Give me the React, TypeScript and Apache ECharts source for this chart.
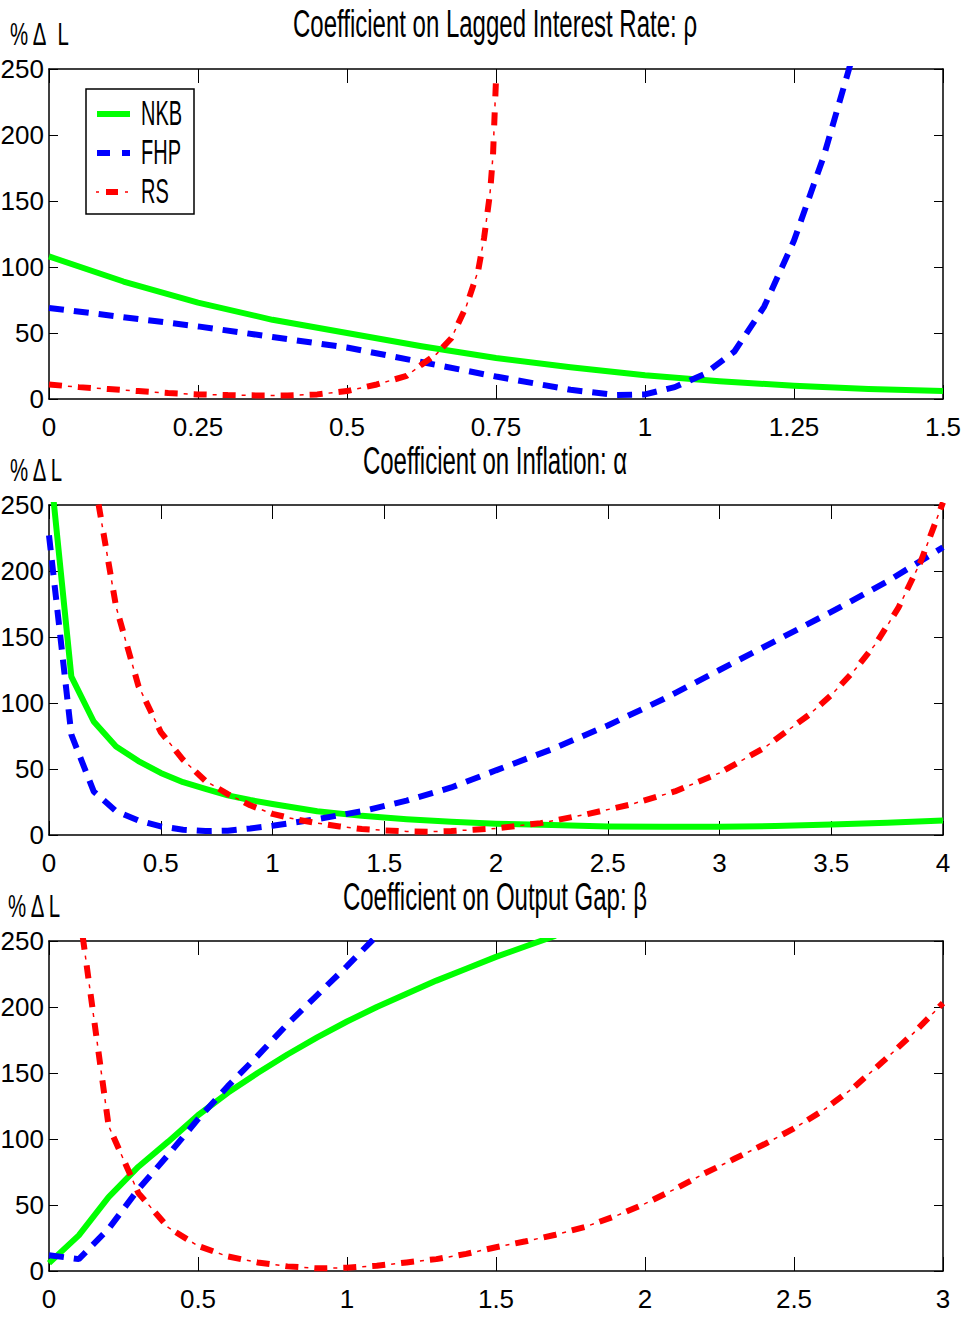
import React, { useEffect, useRef } from "react";
import * as echarts from "echarts";

// ---------- data ----------
// Panel 1: Coefficient on Lagged Interest Rate (rho)
const rhoNKB_x = [0, 0.125, 0.25, 0.375, 0.5, 0.625, 0.75, 0.875, 1, 1.125, 1.25, 1.375, 1.5];
const rhoNKB_y = [108, 89, 73, 60, 50, 40, 31, 24, 18, 13.5, 10, 7.5, 6];
const rhoFHP_x = [0, 0.125, 0.25, 0.375, 0.5, 0.625, 0.75, 0.875, 0.95, 1.0, 1.05, 1.1, 1.15, 1.2, 1.25, 1.3, 1.35];
const rhoFHP_y = [69, 62, 55, 47, 39, 28, 17, 7, 3, 3.5, 9, 19, 36, 70, 120, 184, 262];
const rhoRS_x = [0, 0.05, 0.1, 0.15, 0.2, 0.25, 0.3, 0.35, 0.4, 0.45, 0.5, 0.55, 0.6, 0.625, 0.65, 0.675, 0.7, 0.72, 0.73, 0.74, 0.745, 0.75];
const rhoRS_y = [11, 9, 7.5, 6, 4.5, 3.5, 3, 2.7, 2.7, 3.5, 6, 11, 17.5, 26, 34, 46, 70, 97, 122, 156, 185, 242];

// Panel 2: Coefficient on Inflation (alpha)
const alphaX = [0, 0.1, 0.2, 0.3, 0.4, 0.5, 0.6, 0.7, 0.8, 0.9, 1.0, 1.2, 1.4, 1.6, 1.8, 2.0, 2.25, 2.5, 2.75, 3.0, 3.25, 3.5, 3.75, 4.0];
const alphaNKB_y = [288, 120, 86, 67, 56, 47, 40, 35, 30, 26.5, 23.5, 18, 14.5, 12, 10, 8.5, 7.5, 6.5, 6.2, 6.2, 6.8, 8, 9.2, 11];
const alphaFHP_y = [227, 76, 33, 18, 11, 6.5, 4, 3, 3.3, 5, 7, 12, 18, 26, 36, 49, 65, 83, 103, 125, 147, 169, 192, 218];
const alphaRS_x = [0.2, 0.3, 0.4, 0.5, 0.6, 0.7, 0.8, 0.9, 1.0, 1.1, 1.2, 1.3, 1.4, 1.5, 1.6, 1.7, 1.8, 1.9, 2.0, 2.2, 2.4, 2.6, 2.8, 3.0, 3.2, 3.3, 3.4, 3.5, 3.6, 3.7, 3.8, 3.9, 4.0];
const alphaRS_y = [272, 173, 113, 78, 57, 41, 31, 22.5, 16, 12, 9, 6.5, 4.5, 3.5, 2.7, 2.5, 3, 4, 5, 9, 15.5, 23, 33, 47, 66, 78.5, 91, 106, 124, 145, 172, 207, 252];

// Panel 3: Coefficient on Output Gap (beta)
const betaNKB_x = [0, 0.1, 0.2, 0.3, 0.4, 0.5, 0.6, 0.7, 0.8, 0.9, 1.0, 1.1, 1.2, 1.3, 1.4, 1.5, 1.6, 1.7];
const betaNKB_y = [6, 27, 56, 79, 98, 118, 135, 150, 164, 177, 189, 200, 210, 220, 229, 238, 246, 254];
const betaFHP_x = [0, 0.1, 0.2, 0.3, 0.4, 0.5, 0.6, 0.7, 0.8, 0.9, 1.0, 1.1];
const betaFHP_y = [12, 9, 32, 62, 88, 115, 140, 163, 187, 209, 231, 254];
const betaRS_x = [0.1, 0.2, 0.3, 0.4, 0.5, 0.6, 0.7, 0.8, 0.9, 1.0, 1.1, 1.2, 1.3, 1.4, 1.5, 1.6, 1.7, 1.8, 1.9, 2.0, 2.1, 2.2, 2.3, 2.4, 2.5, 2.6, 2.7, 2.8, 2.9, 3.0];
const betaRS_y = [275, 110, 59, 33, 19, 11, 6.5, 3.5, 2, 2.5, 4, 6.5, 9, 13, 18, 22.5, 27.5, 33.5, 41.5, 51, 62, 74, 85, 96, 108, 122, 139, 159, 180, 203];

// Axes and labels
const titles = ["Coefficient on Lagged Interest Rate: ρ", "Coefficient on Inflation: α", "Coefficient on Output Gap: β"];
const yLabels = ["% Δ\u00a0\u00a0L", "% Δ L", "% Δ L"];
const xMax = [1.5, 4, 3];
const xInterval = [0.25, 0.5, 0.5];
const xTickLabels = [
  ["0", "0.25", "0.5", "0.75", "1", "1.25", "1.5"],
  ["0", "0.5", "1", "1.5", "2", "2.5", "3", "3.5", "4"],
  ["0", "0.5", "1", "1.5", "2", "2.5", "3"],
];
const yTickLabels = ["0", "50", "100", "150", "200", "250"];
const seriesNames = ["NKB", "FHP", "RS"];

// ---------- styling ----------
const FONT = "'Liberation Sans', Arial, sans-serif";
const GREEN = "#00ff00";
const BLUE = "#0000ff";
const RED = "#ff0000";
const LEFT = 49;
const WIDTH = 894;
const HEIGHT = 330;
const TOPS = [69, 505, 941];

const zip = (xs: number[], ys: number[]) => xs.map((x, i) => [x, ys[i]]);

function buildOption() {
  const grids = TOPS.map((t) => ({
    left: LEFT,
    top: t,
    width: WIDTH,
    height: HEIGHT,
    show: false,
    containLabel: false,
    outerBoundsMode: "none",
  }));
  const xAxes: any[] = [];
  const yAxes: any[] = [];
  TOPS.forEach((_, i) => {
    const common = {
      type: "value",
      gridIndex: i,
      min: 0,
      max: xMax[i],
      interval: xInterval[i],
      splitLine: { show: false },
      axisLine: { show: true, onZero: false, lineStyle: { color: "#000", width: 1.5 } },
      axisTick: { show: true, inside: true, length: 14, lineStyle: { color: "#000", width: 1 } },
    };
    xAxes.push({
      ...common,
      position: "bottom",
      axisLabel: {
        show: true,
        color: "#000",
        fontFamily: FONT,
        fontSize: 26,
        margin: 15,
        showMinLabel: true,
        showMaxLabel: true,
        formatter: (_v: number, idx: number) => xTickLabels[i][idx],
      },
    });
    xAxes.push({ ...common, position: "top", axisLabel: { show: false } });
    const ycommon = {
      type: "value",
      gridIndex: i,
      min: 0,
      max: 250,
      interval: 50,
      splitLine: { show: false },
      axisLine: { show: true, onZero: false, lineStyle: { color: "#000", width: 1.5 } },
      axisTick: { show: true, inside: true, length: 9, lineStyle: { color: "#000", width: 1 } },
    };
    yAxes.push({
      ...ycommon,
      position: "left",
      axisLabel: {
        show: true,
        color: "#000",
        fontFamily: FONT,
        fontSize: 26,
        margin: 5,
        showMinLabel: true,
        showMaxLabel: true,
        formatter: (_v: number, idx: number) => yTickLabels[idx],
      },
    });
    yAxes.push({ ...ycommon, position: "right", axisLabel: { show: false } });
  });

  const panelData = [
    [zip(rhoNKB_x, rhoNKB_y), zip(rhoFHP_x, rhoFHP_y), zip(rhoRS_x, rhoRS_y)],
    [zip(alphaX, alphaNKB_y), zip(alphaX, alphaFHP_y), zip(alphaRS_x, alphaRS_y)],
    [zip(betaNKB_x, betaNKB_y), zip(betaFHP_x, betaFHP_y), zip(betaRS_x, betaRS_y)],
  ];

  const series: any[] = [];
  panelData.forEach((d, i) => {
    const base = { type: "line", xAxisIndex: 2 * i, yAxisIndex: 2 * i, showSymbol: false, symbol: "none", clip: true, silent: true };
    series.push({ ...base, name: seriesNames[0], data: d[0], z: 3, lineStyle: { color: GREEN, width: 6, cap: "butt", join: "round" } });
    series.push({ ...base, name: seriesNames[1], data: d[1], z: 4, lineStyle: { color: BLUE, width: 6, type: [15, 10], cap: "butt" } });
    series.push({ ...base, name: seriesNames[2], data: d[2], z: 5, lineStyle: { color: RED, width: 6, type: [13, 16], cap: "butt" } });
    series.push({ ...base, name: seriesNames[2] + " ", data: d[2], z: 5, lineStyle: { color: RED, width: 1.5, type: [4, 25], dashOffset: 10, cap: "butt" } });
  });

  const graphics: any[] = [];
  const titleY = [24, 461, 897];
  const labY = [34, 470, 906];
  const labX = [10, 10, 8];
  titles.forEach((t, i) => {
    graphics.push({
      type: "text",
      x: 495,
      y: titleY[i],
      scaleX: 0.8,
      scaleY: 1.3,
      z: 100,
      style: { text: t, fill: "#000", font: `30px ${FONT}`, textAlign: "center", textVerticalAlign: "middle" },
    });
    graphics.push({
      type: "text",
      x: labX[i],
      y: labY[i],
      scaleX: 0.85,
      scaleY: 1.34,
      z: 100,
      style: { text: yLabels[i], fill: "#000", font: `24px ${FONT}`, textAlign: "left", textVerticalAlign: "middle" },
    });
  });

  // legend (panel 1)
  graphics.push({ type: "rect", z: 100, shape: { x: 86, y: 89, width: 108, height: 125 }, style: { fill: "#fff", stroke: "#000", lineWidth: 1.5 } });
  graphics.push({ type: "line", z: 101, shape: { x1: 97, y1: 114, x2: 130, y2: 114 }, style: { stroke: GREEN, lineWidth: 6 } });
  graphics.push({ type: "line", z: 101, shape: { x1: 97, y1: 153, x2: 130, y2: 153 }, style: { stroke: BLUE, lineWidth: 6, lineDash: [13, 12] } });
  graphics.push({ type: "line", z: 101, shape: { x1: 106, y1: 192, x2: 118, y2: 192 }, style: { stroke: RED, lineWidth: 6 } });
  graphics.push({ type: "line", z: 101, shape: { x1: 96, y1: 192, x2: 130, y2: 192 }, style: { stroke: RED, lineWidth: 1.5, lineDash: [3, 26] } });
  [113, 152, 191].forEach((y, k) => {
    graphics.push({
      type: "text",
      x: 141,
      y,
      scaleX: 0.8,
      scaleY: 1.4,
      z: 101,
      style: { text: seriesNames[k], fill: "#000", font: `25px ${FONT}`, textAlign: "left", textVerticalAlign: "middle" },
    });
  });

  return {
    animation: false,
    backgroundColor: "#fff",
    grid: grids,
    xAxis: xAxes,
    yAxis: yAxes,
    series,
    graphic: graphics,
  };
}

export default function App() {
  const ref = useRef<HTMLDivElement>(null);
  useEffect(() => {
    if (!ref.current) return;
    const chart = echarts.init(ref.current, null, { renderer: "svg" });
    chart.setOption(buildOption() as any);
    return () => chart.dispose();
  }, []);
  return (
    <div
      ref={ref}
      style={{ position: "absolute", left: 0, top: 0, width: 961, height: 1320, background: "#fff" }}
    />
  );
}
